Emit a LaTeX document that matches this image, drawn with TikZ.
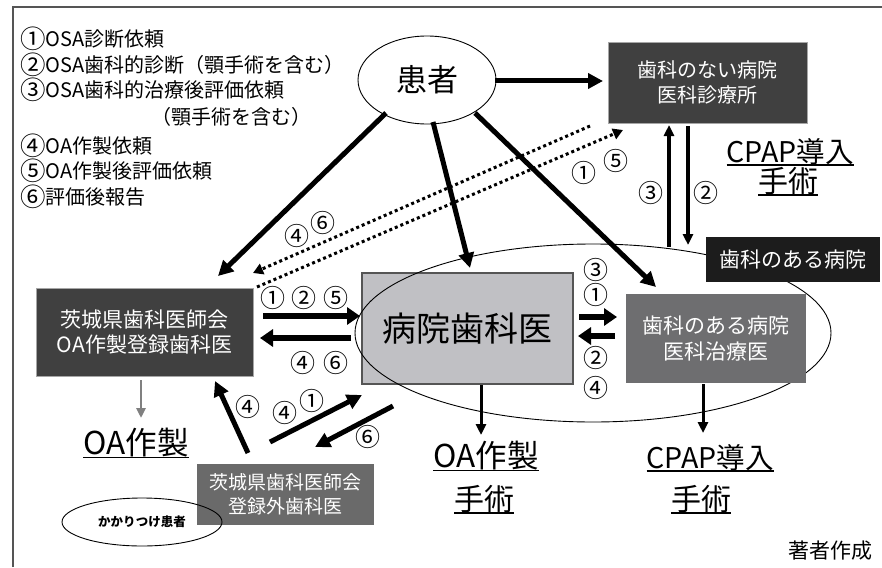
\documentclass[tikz,border=0pt]{standalone}
\usepackage{fontspec}
\setmainfont{Noto Sans CJK JP}
\usetikzlibrary{arrows.meta,shapes.geometric}
\definecolor{darkbox}{HTML}{404040}
\definecolor{midbox}{HTML}{6E6E70}
\definecolor{lowbox}{HTML}{6A6A6A}
\definecolor{hospgray}{HTML}{C0C0C4}
\definecolor{blackbox}{HTML}{1C1C1C}
\definecolor{framecol}{HTML}{555555}
\definecolor{greyarrow}{HTML}{808080}
\newcommand\fsz[2]{\fontsize{#1}{#2}\selectfont}
\newcommand\lc[1]{\raisebox{-2pt}{\fontsize{25.5}{24}\selectfont #1}}
\begin{document}
\begin{tikzpicture}[x=1pt,y=-1pt,
  every node/.style={inner sep=0pt,outer sep=0pt},
  legend/.style={anchor=west,font=\fsz{20}{24}},
  circ/.style={font=\fsz{25}{26}},
  boxtext/.style={text=white,align=center},
  bigul/.style={font=\fsz{30}{34}},
  ulline/.style={line width=1.6pt},
  thickarrow/.style={line width=5pt,-{Triangle[length=15pt,width=15pt]}},
  hzarrow/.style={line width=5.5pt,-{Triangle[length=13pt,width=17pt]}},
  medarrow/.style={line width=3.5pt,-{Triangle[length=11pt,width=10pt]}},
  dotline/.style={line width=3pt,dash pattern=on 3pt off 3pt,-{Triangle[length=10pt,width=11pt]}},
  greyarr/.style={line width=2.5pt,draw=greyarrow,-{Triangle[length=10pt,width=9pt,fill=greyarrow]}}
]
\useasboundingbox (0,0) rectangle (882,567);
% frame
\coordinate (fbl) at (13,567);
\coordinate (ftl) at (13,7);
\coordinate (ftr) at (882,7);
\draw[framecol,line width=2pt] (fbl) -- (ftl) -- (ftr);

% legend
\node[legend] (l1) at (20,39) {\lc{①}OSA診断依頼};
\node[legend] (l2) at (20,65) {\lc{②}OSA歯科的診断（顎手術を含む）};
\node[legend] (l3) at (20,90) {\lc{③}OSA歯科的治療後評価依頼};
\node[legend] (l4) at (151,117) {（顎手術を含む）};
\node[legend] (l5) at (20,146) {\lc{④}OA作製依頼};
\node[legend] (l6) at (20,171) {\lc{⑤}OA作製後評価依頼};
\node[legend] (l7) at (20,197) {\lc{⑥}評価後報告};

% hospital dentist box
\node[draw=framecol,line width=1.2pt,fill=hospgray,minimum width=211pt,minimum height=111pt,font=\fsz{34}{40}] (hosp) at (467.5,328.5) {病院歯科医};
% hospital-with-dentistry ellipse
\node[draw,ellipse,line width=0.9pt,minimum width=476pt,minimum height=178pt] (group) at (593,333) {};
% medical doctor in hospital with dentistry
\node[fill=midbox,minimum width=180pt,minimum height=89pt,boxtext,font=\fsz{21}{26}] (med) at (716,338.5) {歯科のある病院\\医科治療医};
\node[fill=blackbox,minimum width=174pt,minimum height=45pt,boxtext,font=\fsz{21}{26}] (grouplabel) at (793,259.5) {歯科のある病院};

% patient
\node[draw,ellipse,line width=0.9pt,minimum width=138pt,minimum height=88pt,font=\fsz{31}{36}] (pat) at (427,80) {患者};
% hospital without dentistry
\node[draw=gray!70,line width=0.8pt,fill=darkbox,minimum width=199pt,minimum height=81pt,boxtext,font=\fsz{20}{25}] (nodent) at (707.5,82.5) {歯科のない病院\\医科診療所};
% registered dentist
\node[draw=gray!70,line width=0.8pt,fill=darkbox,minimum width=217pt,minimum height=88pt,boxtext,font=\fsz{21}{25}] (reg) at (144.5,332) {茨城県歯科医師会\\OA作製登録歯科医};
% non-registered dentist
\node[fill=lowbox,minimum width=177pt,minimum height=61pt,boxtext,font=\fsz{19}{24}] (unreg) at (285.5,494.5) {茨城県歯科医師会\\登録外歯科医};
% family patient
\node[draw,ellipse,line width=0.9pt,minimum width=160pt,minimum height=48pt,font=\fsz{12.5}{14}\bfseries] (fam) at (142,522) {かかりつけ患者};

% underlined outcome labels
\node[bigul,font=\fsz{28.5}{34}] (cpapA) at (790,152) {CPAP導入};
\node[bigul] (opA) at (788,181) {手術};
\node[bigul,font=\fsz{31.5}{34}] (oaL) at (136,443) {OA作製};
\node[bigul,font=\fsz{31.5}{34}] (oaM) at (486,456) {OA作製};
\node[bigul] (opM) at (484,499) {手術};
\node[bigul,font=\fsz{28.5}{34}] (cpapB) at (710,458) {CPAP導入};
\node[bigul] (opB) at (701,499) {手術};
\foreach \n in {cpapA,opA,oaL,oaM,opM,cpapB,opB}
  \draw[ulline] (\n.south west) -- (\n.south east);

\node[font=\fsz{21}{24}] (author) at (830,551) {著者作成};

% ---- arrows from patient
\coordinate (p1) at (495,81);
\coordinate (p1e) at (603,81);
\draw[thickarrow] (p1) -- (p1e);
\coordinate (p2) at (386,113);
\coordinate (p2e) at (218,276);
\draw[thickarrow] (p2) -- (p2e);
\coordinate (p3) at (433,122);
\coordinate (p3e) at (470,268);
\draw[thickarrow] (p3) -- (p3e);
\coordinate (p4) at (475,113);
\coordinate (p4e) at (656,287);
\draw[thickarrow] (p4) -- (p4e);

% ---- dotted lines
\coordinate (dA1) at (590,126);
\coordinate (dA2) at (253,273);
\draw[dotline] (dA1) -- (dA2);
\coordinate (dB1) at (257,287);
\coordinate (dB2) at (623,130);
\draw[dotline] (dB1) -- (dB2);
\node[circ] (c46a) at (297,236) {④};
\node[circ] (c46b) at (323,223) {⑥};
\node[circ] (c15a) at (584,173) {①};
\node[circ] (c15b) at (616,161) {⑤};

% ---- between no-dent hospital and hospital group
\coordinate (v1) at (669,247);
\coordinate (v1e) at (669,125);
\draw[medarrow] (v1) -- (v1e);
\coordinate (v2) at (688,126);
\coordinate (v2e) at (688,245);
\draw[medarrow] (v2) -- (v2e);
\node[circ] (c3v) at (651,193) {③};
\node[circ] (c2v) at (706,193) {②};

% ---- registered dentist <-> hospital dentist
\coordinate (h1) at (263,316);
\coordinate (h1e) at (360,316);
\draw[hzarrow] (h1) -- (h1e);
\coordinate (h2) at (351,338);
\coordinate (h2e) at (260,338);
\draw[hzarrow] (h2) -- (h2e);
\node[circ] at (273,298) {①};
\node[circ] at (304,298) {②};
\node[circ] at (336,298) {⑤};
\node[circ] at (303,363) {④};
\node[circ] at (336,363) {⑥};

% ---- hospital dentist <-> medical doctor
\coordinate (m1) at (579,317);
\coordinate (m1e) at (617,317);
\draw[hzarrow] (m1) -- (m1e);
\coordinate (m2) at (615,336);
\coordinate (m2e) at (578,336);
\draw[hzarrow] (m2) -- (m2e);
\node[circ] at (596,270) {③};
\node[circ] at (596,295) {①};
\node[circ] at (596,358) {②};
\node[circ] at (596,388) {④};

% ---- non-registered dentist arrows
\coordinate (u1) at (248,453);
\coordinate (u1e) at (215,381);
\draw[thickarrow] (u1) -- (u1e);
\node[circ] at (248,407) {④};
\coordinate (u2) at (270,442);
\coordinate (u2e) at (362,395);
\draw[thickarrow] (u2) -- (u2e);
\node[circ] at (285,413) {④};
\node[circ] at (312,401) {①};
\coordinate (u3) at (393,406);
\coordinate (u3e) at (315,447);
\draw[thickarrow] (u3) -- (u3e);
\node[circ] at (368,437) {⑥};

% ---- outcome arrows
\coordinate (o1) at (481,385);
\coordinate (o1e) at (481,435);
\draw[medarrow,line width=3pt] (o1) -- (o1e);
\coordinate (o2) at (703,384);
\coordinate (o2e) at (703,433);
\draw[medarrow,line width=3pt] (o2) -- (o2e);
\coordinate (o3) at (141,380);
\coordinate (o3e) at (141,418);
\draw[greyarr] (o3) -- (o3e);
\end{tikzpicture}
\end{document}
